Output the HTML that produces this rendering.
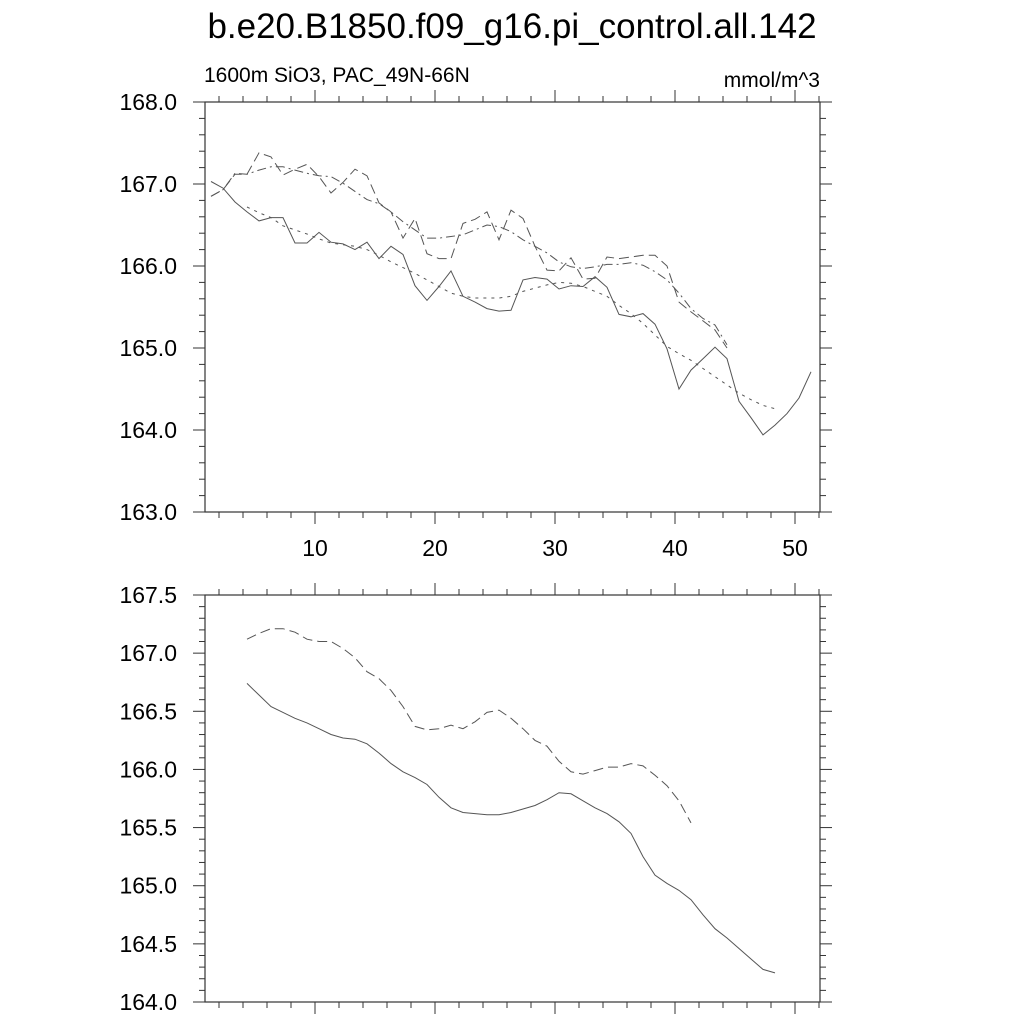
<!DOCTYPE html>
<html><head><meta charset="utf-8"><style>
html,body{margin:0;padding:0;background:#fff;}
svg{display:block;font-family:"Liberation Sans",Arial,sans-serif;}
</style></head><body>
<svg id="chart" width="1024" height="1024" viewBox="0 0 1024 1024" xmlns="http://www.w3.org/2000/svg">
<text x="512" y="38" text-anchor="middle" font-size="35">b.e20.B1850.f09_g16.pi_control.all.142</text>
<text x="204" y="82" font-size="21">1600m SiO3, PAC_49N-66N</text>
<text x="820" y="87" text-anchor="end" font-size="21">mmol/m^3</text>
<g id="top"></g>
<g id="bot"></g>
</svg>
<script>
// ---- data ----
const xTicks = [10, 20, 30, 40, 50];
const topYTicks = [163.0, 164.0, 165.0, 166.0, 167.0, 168.0];
const botYTicks = [164.0, 164.5, 165.0, 165.5, 166.0, 166.5, 167.0, 167.5];
const topSolidStart = 1;
const topSolid = [167.03,166.95,166.78,166.66,166.55,166.59,166.59,166.28,166.28,166.41,166.29,166.27,166.20,166.29,166.09,166.24,166.14,165.76,165.58,165.75,165.94,165.63,165.56,165.48,165.45,165.46,
165.83,165.86,165.84,165.72,165.76,165.75,165.87,165.74,165.41,165.38,165.42,165.29,164.99,164.50,164.73,164.87,165.01,164.87,164.35,164.15,163.94,164.06,164.20,164.39,164.71];
const topDashStart = 1;
const topDash = [166.85,166.93,167.12,167.12,167.38,167.33,167.11,167.18,167.24,167.09,166.89,167.02,167.18,167.10,166.77,166.66,166.34,166.58,166.15,166.09,166.09,166.52,166.57,166.66,166.32,166.68,
166.58,166.24,165.95,165.94,166.10,165.84,165.85,166.11,166.09,166.11,166.13,166.13,166.00,165.56,165.44,165.33,165.22,165.00];
const topDashDotStart = 1;
const topDashDot = [166.85,166.93,167.13,167.12,167.17,167.21,167.21,167.17,167.13,167.10,167.09,167.01,166.91,166.81,166.76,166.66,166.54,166.44,166.34,166.34,166.36,166.38,166.44,166.50,166.48,166.42,
166.32,166.24,166.16,166.05,165.99,165.97,165.99,166.02,166.02,166.04,166.01,165.93,165.83,165.67,165.48,165.36,165.28,165.04];
const topDotStart = 4;
const topDot = [166.72,166.65,166.59,166.49,166.44,166.39,166.33,166.28,166.26,166.24,166.20,166.13,166.05,165.98,165.91,165.83,165.75,165.67,165.63,165.61,165.61,165.61,165.63,
165.69,165.73,165.77,165.80,165.79,165.75,165.69,165.63,165.52,165.42,165.30,165.16,165.02,164.93,164.85,164.75,164.65,164.55,164.45,164.37,164.30,164.26];
const botSolidStart = 4;
const botSolid = [166.74,166.64,166.54,166.49,166.44,166.40,166.35,166.30,166.27,166.26,166.22,166.14,166.05,165.98,165.93,165.87,165.76,165.67,165.63,165.62,165.61,165.61,
165.63,165.66,165.69,165.74,165.80,165.79,165.73,165.67,165.62,165.55,165.45,165.25,165.09,165.02,164.96,164.88,164.75,164.63,164.55,164.46,164.37,164.28,164.25];
const botDashStart = 4;
const botDash = [167.12,167.17,167.21,167.21,167.18,167.12,167.10,167.10,167.04,166.96,166.84,166.78,166.68,166.54,166.37,166.34,166.35,166.38,166.35,166.41,166.49,166.51,
166.44,166.35,166.25,166.20,166.07,165.98,165.96,165.99,166.02,166.02,166.05,166.03,165.95,165.86,165.73,165.54];

// ---- layout ----
const NS = "http://www.w3.org/2000/svg";
const L = 205, R = 820;
const xScale = v => 315 + (v - 10) * 12;
const idxX = i => xScale(i + 1/3);

function el(tag, attrs, parent) {
  const e = document.createElementNS(NS, tag);
  for (const k in attrs) e.setAttribute(k, attrs[k]);
  parent.appendChild(e);
  return e;
}

function panel(g, T, B, yMin, yMax, yTicks, minorStep, showXLabels, series) {
  const yScale = v => B - (v - yMin) / (yMax - yMin) * (B - T);
  const frame = el('rect', {x: L, y: T, width: R - L, height: B - T, fill: 'none', stroke: '#333', 'stroke-width': 1.2}, g);
  
  
  const nMinor = Math.round((yMax - yMin) / minorStep);
  for (let k = 0; k <= nMinor; k++) {
    const v = yMin + k * minorStep;
    const y = yScale(v);
    const major = yTicks.some(t => Math.abs(t - v) < 1e-6);
    const len = major ? 12 : 6;
    const t1 = el('line', {x1: L - len, y1: y, x2: L, y2: y, stroke: '#333', 'stroke-width': 1}, g);
    
    
    const t2 = el('line', {x1: R, y1: y, x2: R + len, y2: y, stroke: '#333', 'stroke-width': 1}, g);
    
    
  }
  yTicks.forEach(t => {
    const tx = el('text', {x: 177, y: yScale(t) + 8, 'text-anchor': 'end', 'font-size': 23}, g);
    tx.textContent = t.toFixed(1);
    
    
  });
  for (let v = 2; v <= 52; v += 2) {
    const x = xScale(v);
    if (x < L || x > R) continue;
    const major = xTicks.includes(v);
    const len = major ? 12 : 6;
    const a = el('line', {x1: x, y1: B, x2: x, y2: B + len, stroke: '#333', 'stroke-width': 1}, g);
    
    
    const b = el('line', {x1: x, y1: T - len, x2: x, y2: T, stroke: '#333', 'stroke-width': 1}, g);
    
    
  }
  if (showXLabels) {
    xTicks.forEach(t => {
      const tx = el('text', {x: xScale(t), y: B + 44, 'text-anchor': 'middle', 'font-size': 23}, g);
      tx.textContent = t;
      
      
    });
  }
  series.forEach(s => {
    const pts = s.data.map((v, i) => idxX(s.start + i).toFixed(1) + ',' + yScale(v).toFixed(1)).join(' ');
    const p = el('polyline', {points: pts, fill: 'none', stroke: '#555', 'stroke-width': 1, 'stroke-dasharray': s.dash}, g);
    
    
  });
}

panel(document.getElementById('top'), 102, 512, 163, 168, topYTicks, 0.2, true, [
  {data: topSolid, start: topSolidStart, dash: 'none', name: 'series-solid'},
  {data: topDash, start: topDashStart, dash: '10 5', name: 'series-dashed'},
  {data: topDashDot, start: topDashDotStart, dash: '9 4 2 4', name: 'series-dash-dot'},
  {data: topDot, start: topDotStart, dash: '3 5', name: 'series-dotted'}
]);
panel(document.getElementById('bot'), 595, 1002, 164, 167.5, botYTicks, 0.1, false, [
  {data: botSolid, start: botSolidStart, dash: 'none', name: 'smoothed-solid'},
  {data: botDash, start: botDashStart, dash: '10 5', name: 'smoothed-dashed'}
]);
</script>
</body></html>
